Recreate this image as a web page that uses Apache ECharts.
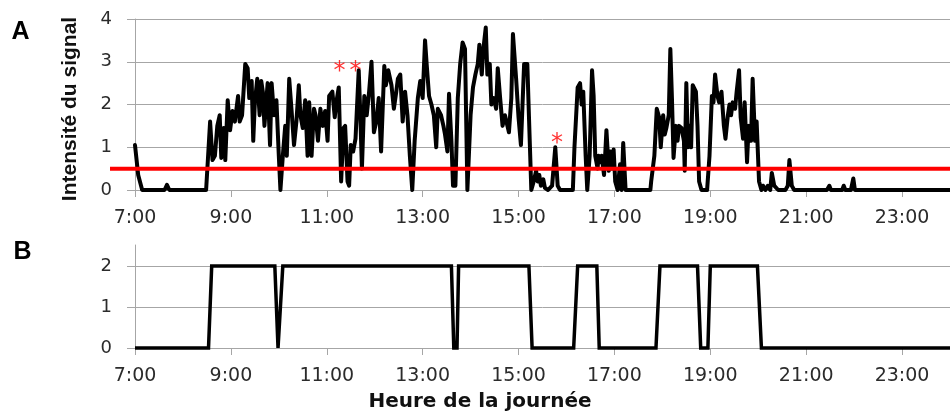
<!DOCTYPE html>
<html><head><meta charset="utf-8">
<script src="https://cdn.jsdelivr.net/npm/echarts@6/dist/echarts.min.js"></script>
<style>html,body{margin:0;padding:0;background:#fff}#c{width:950px;height:414px}</style>
</head><body><div id="c"></div>
<script>
// ---------- data ----------
const startHour = 7;           // x axis starts at 7:00
const endHour = 24;
const tickStepHours = 2;       // 7:00, 9:00, ... 23:00

// Panel A : signal intensity (minutes after 7:00, value)
const signalMinutes = [
  0,4,9,37,40,43,89,94,97,100,
  103,106,108,111,113,116,119,122,125,129,
  131,134,138,141,143,146,148,150,153,156,
  158,160,162,166,169,171,174,177,180,182,
  185,188,190,193,196,199,202,205,207,210,
  213,216,218,221,224,226,229,232,235,238,
  241,243,247,250,252,255,258,261,263,266,
  268,270,273,276,280,282,284,287,290,293,
  296,299,302,305,308,312,314,317,321,324,
  327,329,332,335,338,341,344,347,350,354,
  357,360,363,365,368,371,374,377,379,383,
  386,388,391,393,396,398,401,404,407,410,
  413,416,420,423,426,429,431,434,436,439,
  441,444,446,449,452,454,457,460,463,465,
  468,471,473,477,480,483,487,491,493,496,
  499,502,504,506,508,511,513,517,522,526,
  529,532,548,550,554,557,559,561,564,566,
  569,572,574,576,579,580,583,584,587,588,
  590,593,595,597,599,601,604,607,609,611,
  614,645,646,650,653,656,658,661,663,665,
  668,670,672,674,677,679,681,684,687,688,
  690,692,694,696,698,702,704,706,709,716,
  719,722,724,726,729,731,734,737,739,742,
  744,746,748,751,753,756,758,761,763,766,
  768,771,773,776,778,781,784,786,789,792,
  795,797,800,802,805,814,817,819,822,825,
  866,869,871,885,887,889,896,899,901,1020
];
const signalValues = [
  1.05,0.35,0,0,0.12,0,0,1.6,0.7,0.8,
  1.5,1.75,0.75,1.45,0.7,2.1,1.4,1.85,1.6,2.2,
  1.6,1.75,2.95,2.85,2.15,2.55,1.15,2.05,2.6,1.75,
  2.55,2.3,1.5,2.5,1.05,2.5,1.75,2.1,0.8,0,
  0.8,1.5,0.8,2.6,1.85,1.05,1.6,2.45,1.75,1.45,
  2.1,0.8,2.05,0.8,1.9,1.75,1.15,1.9,1.5,1.85,
  1.15,2.2,2.3,1.7,2.05,2.4,0.2,1.45,1.5,0.2,
  0.1,1.05,0.9,1.2,2.8,1.75,0.5,2.2,1.75,2.3,
  3.0,1.35,1.6,2.15,0.9,2.9,2.45,2.8,2.45,1.9,
  2.3,2.6,2.7,1.6,2.3,1.75,0.8,0,1.15,2.15,
  2.55,2.15,3.5,2.95,2.2,2.0,1.75,1.0,1.9,1.75,
  1.5,1.3,0.9,2.25,1.15,0.1,0.1,2.15,2.95,3.45,
  3.3,0,1.75,2.4,2.7,2.95,3.4,2.7,3.3,3.8,
  2.7,2.95,2.0,2.15,1.9,2.85,2.15,1.5,1.75,1.75,
  1.35,2.15,3.65,2.6,1.7,1.05,2.95,2.95,1.75,0,
  0.2,0.45,0.2,0.35,0.1,0.25,0.05,0,0.1,1.0,
  0.1,0,0,1.0,2.4,2.5,2.0,2.3,0.8,0,
  0.8,2.8,2.2,0.8,0.5,0.8,0.65,0.8,0.35,0.65,
  1.4,0.45,0.9,0.5,0.95,0.2,0,0.6,0,1.1,
  0,0,0.2,0.8,1.9,1.7,1.0,1.75,1.3,1.45,
  1.75,3.3,2.15,0.75,1.5,1.15,1.5,1.45,1.15,0.45,
  2.5,1.0,1.5,1.0,2.45,2.3,1.5,0.2,0,0,
  0.8,2.2,2.05,2.7,2.2,2.05,2.3,1.5,1.2,1.75,
  2.0,1.75,2.05,1.9,2.3,2.8,1.7,1.2,2.05,0.65,
  1.5,1.15,2.6,1.15,1.6,0.2,0,0.1,0,0.1,
  0,0.4,0.1,0.1,0,0,0.1,0.7,0.1,0,
  0,0.1,0,0,0.1,0,0,0.27,0,0
];
const threshold = 0.5;

// Panel A annotations (red asterisks)
const starMinutes = [256, 276, 528];
const starLevels  = [2.88, 2.88, 1.19];
const starText    = ['*', '*', '*'];

// Panel B : state (minutes after 7:00, value)
const stateMinutes = [0,92,96,175,179,181,185,396,399,403,405,493,497,549,554,578,581,652,657,704,708,717,720,779,784,1020];
const stateValues  = [0,0,2,2,0,0,2,2,0,0,2,2,0,0,2,2,0,0,2,2,0,0,2,2,0,0];

// Axis ranges / ticks
const yMaxA = 4, yMaxB = 2, yMaxBLine = 2.5;
const panelLetters = ['A', 'B'];
const yTitle = 'Intensité du signal';
const xTitle = 'Heure de la journée';

// ---------- chart ----------
const toHours = m => m / 60;
const sigData = signalMinutes.map((m, i) => [toHours(m), signalValues[i]]);
const stateData = stateMinutes.map((m, i) => [toHours(m), stateValues[i]]);
const starData = starMinutes.map((m, i) => ({ value: [toHours(m), starLevels[i]], name: starText[i] }));
const spanH = endHour - startHour;

const gridColor = '#a6a6a6';
const labelColor = '#2b2b2b';
const tickFont = 'DejaVu Sans';

function timeAxis(gridIndex) {
  return {
    type: 'value', gridIndex, min: 0, max: spanH, interval: tickStepHours,
    axisLine: { show: true, onZero: false, lineStyle: { color: gridColor, width: 1 } },
    axisTick: { show: true, length: 7, lineStyle: { color: gridColor, width: 1 } },
    axisLabel: { margin: 19, fontFamily: tickFont, fontSize: 19, color: labelColor, showMaxLabel: false,
      formatter: v => (v + startHour) + ':00' },
    splitLine: { show: false }
  };
}
function valAxis(gridIndex, max) {
  return {
    type: 'value', gridIndex, min: 0, max, interval: 1,
    axisLine: { show: true, lineStyle: { color: gridColor, width: 1 } },
    axisTick: { show: true, length: 8, lineStyle: { color: gridColor, width: 1 } },
    axisLabel: { margin: 23, fontFamily: tickFont, fontSize: 18, color: labelColor },
    splitLine: { show: true, lineStyle: { color: gridColor, width: 1 } }
  };
}

const yA = valAxis(0, yMaxA);
Object.assign(yA, {
  name: yTitle, nameLocation: 'middle', nameGap: 54,
  nameTextStyle: { fontFamily: 'Liberation Sans', fontWeight: 'bold', fontSize: 21, color: '#111', padding: [0, 9, 0, 0] }
});

const chart = echarts.init(document.getElementById('c'), null, { renderer: 'canvas' });
chart.setOption({
  animation: false,
  backgroundColor: '#fff',
  grid: [
    { left: 135, right: -9.5, top: 19, height: 171 },   // A
    { left: 135, right: -9.5, top: 266, height: 82 },   // B
    { left: 110, right: -9.5, top: 19, height: 171 },   // A threshold (extends left of axis)
    { left: 135, right: -9.5, top: 245, height: 21 }    // B axis line above 2
  ],
  xAxis: [
    timeAxis(0),
    timeAxis(1),
    { type: 'value', gridIndex: 2, min: 0, max: 1, show: false },
    { type: 'value', gridIndex: 3, min: 0, max: 1, show: false }
  ],
  yAxis: [
    yA,
    valAxis(1, yMaxB),
    { type: 'value', gridIndex: 2, min: 0, max: yMaxA, show: false },
    { type: 'value', gridIndex: 3, min: yMaxB, max: yMaxBLine, show: true,
      axisLine: { show: true, lineStyle: { color: gridColor, width: 1 } },
      axisTick: { show: false }, axisLabel: { show: false }, splitLine: { show: false } }
  ],
  graphic: [
    { type: 'text', x: 20.5, y: 32, style: { text: panelLetters[0], font: 'bold 25px "Liberation Sans"', fill: '#000', align: 'center', verticalAlign: 'middle', textAlign: 'center', textVerticalAlign: 'middle' } },
    { type: 'text', x: 22.5, y: 252.5, style: { text: panelLetters[1], font: 'bold 25px "Liberation Sans"', fill: '#000', align: 'center', verticalAlign: 'middle', textAlign: 'center', textVerticalAlign: 'middle' } },
    { type: 'text', x: 480, y: 402, style: { text: xTitle, font: 'bold 20px "DejaVu Sans"', fill: '#111', align: 'center', verticalAlign: 'middle', textAlign: 'center', textVerticalAlign: 'middle' } }
  ],
  series: [
    { type: 'line', name: 'signal', xAxisIndex: 0, yAxisIndex: 0, data: sigData, symbol: 'none', clip: false, z: 3,
      lineStyle: { color: '#000', width: 4, join: 'round', cap: 'round' } },
    { type: 'line', name: 'seuil', xAxisIndex: 2, yAxisIndex: 2, data: [[0, threshold], [1, threshold]], symbol: 'none', clip: false, z: 4,
      lineStyle: { color: '#ff0000', width: 4 } },
    { type: 'scatter', name: 'stars', xAxisIndex: 0, yAxisIndex: 0, data: starData, symbolSize: 0, z: 5, clip: false,
      label: { show: true, position: 'inside', formatter: p => p.name, color: '#ff0000', fontSize: 24, fontFamily: 'DejaVu Sans', offset: [0, 5] } },
    { type: 'line', name: 'etat', xAxisIndex: 1, yAxisIndex: 1, data: stateData, symbol: 'none', clip: false, z: 3,
      lineStyle: { color: '#000', width: 3.5, join: 'miter' } }
  ]
});
</script>
</body></html>
